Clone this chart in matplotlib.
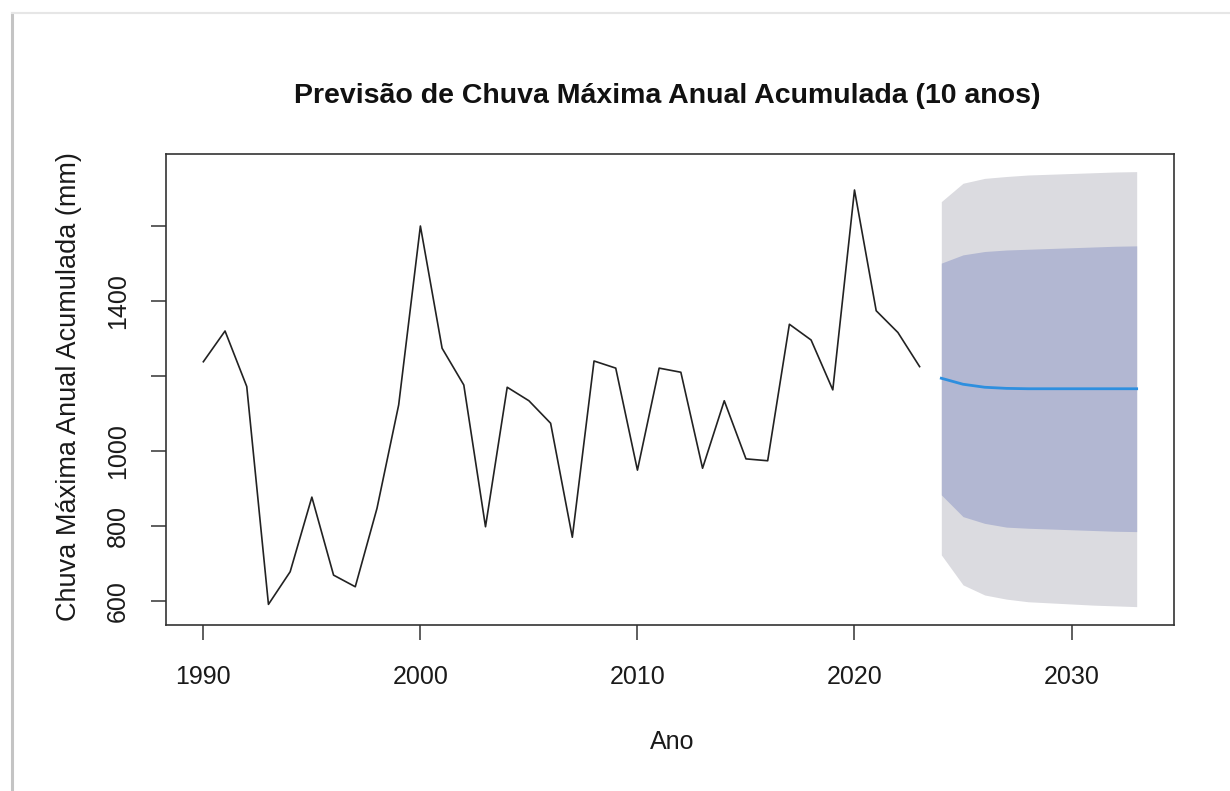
import matplotlib
matplotlib.use("Agg")
import matplotlib.pyplot as plt
from matplotlib.lines import Line2D

plt.rcParams['font.family'] = ['Liberation Sans', 'DejaVu Sans']

# Observed series
years = list(range(1990, 2024))
rain = [1237, 1319, 1171, 590, 677, 876, 668, 637, 846, 1122,
        1599, 1273, 1175, 797, 1169, 1133, 1073, 769, 1239, 1220,
        948, 1220, 1209, 953, 1133, 978, 973, 1337, 1295, 1162,
        1695, 1373, 1315, 1224]

# Forecast (10 years)
fc_years = list(range(2024, 2034))
fc_mean = [1193, 1177, 1169, 1166, 1165, 1165, 1165, 1165, 1165, 1165]
lo80 = [882, 824, 806, 796, 793, 791, 789, 787, 785, 784]
hi80 = [1500, 1522, 1531, 1535, 1537, 1539, 1541, 1543, 1545, 1546]
lo95 = [722, 642, 615, 604, 597, 594, 591, 588, 586, 584]
hi95 = [1664, 1713, 1726, 1731, 1735, 1737, 1739, 1741, 1743, 1744]

xticks = [1990, 2000, 2010, 2020, 2030]
yticks = [600, 800, 1000, 1200, 1400, 1600]
ytick_labels = ['600', '800', '1000', '', '1400', '']

title = "Previsão de Chuva Máxima Anual Acumulada (10 anos)"
xlabel = "Ano"
ylabel = "Chuva Máxima Anual Acumulada (mm)"

fig = plt.figure(figsize=(12.3, 7.91), dpi=100)
ax = fig.add_axes([166/1230, 1-625/791, (1174-166)/1230, (625-154)/791])

ax.fill_between(fc_years, lo95, hi95, color='#DBDBE0', linewidth=0)
ax.fill_between(fc_years, lo80, hi80, color='#B2B7D2', linewidth=0)
ax.plot(years, rain, color='#222222', linewidth=1.2)
ax.plot(fc_years, fc_mean, color='#2E8FDF', linewidth=2.0)

ax.set_xlim(1988.28, 2034.72)
ax.set_ylim(535, 1791)
ax.set_xticks(xticks)
ax.set_xticklabels([str(t) for t in xticks])
ax.set_yticks(yticks)
ax.set_yticklabels(ytick_labels, rotation=90, va='center')

for s in ax.spines.values():
    s.set_color('#333333')
    s.set_linewidth(1.2)

ax.tick_params(axis='both', direction='out', length=10.8, width=1.1,
               color='#333333', labelsize=18, labelcolor='#1a1a1a')
ax.tick_params(axis='x', pad=18)
ax.tick_params(axis='y', pad=15)

fig.text(667/1230, 1-96/791, title, ha='center', va='center',
         fontsize=20.5, fontweight='bold', color='#111111')
fig.text(672/1230, 1-742/791, xlabel, ha='center', va='center',
         fontsize=18, color='#1a1a1a')
fig.text(69/1230, 1-387/791, ylabel, ha='center', va='center',
         rotation=90, fontsize=19.5, color='#1a1a1a')

# screenshot frame edges
fig.add_artist(Line2D([12/1230, 12/1230], [0, 1-13/791],
                      transform=fig.transFigure, color='#C4C4C4', linewidth=2.2))
fig.add_artist(Line2D([12/1230, 1], [1-13/791, 1-13/791],
                      transform=fig.transFigure, color='#E6E6E6', linewidth=1.5))

fig.savefig('out.png', dpi=100)
